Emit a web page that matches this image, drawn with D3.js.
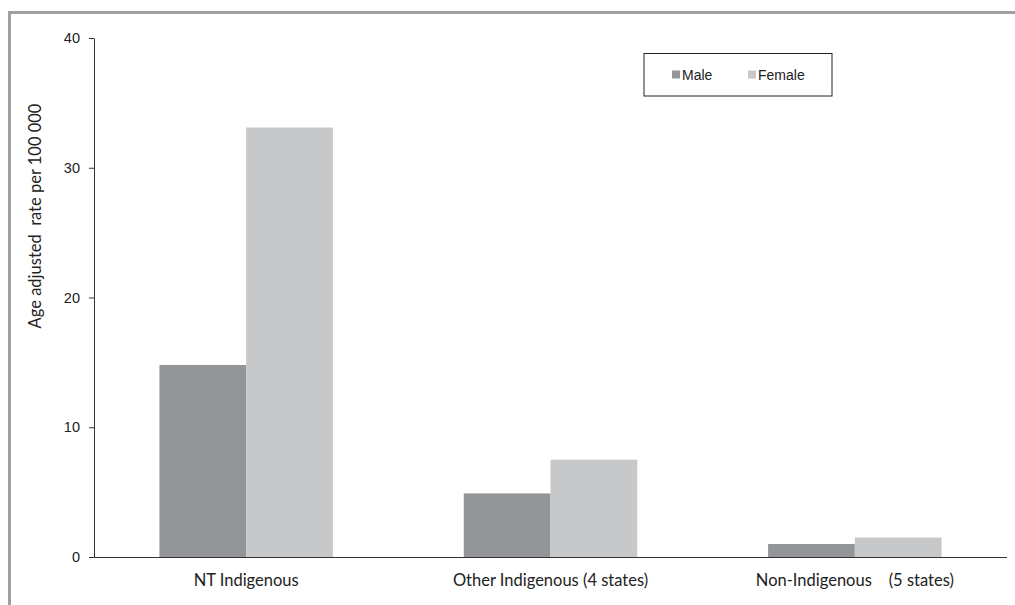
<!DOCTYPE html>
<html>
<head>
<meta charset="utf-8">
<script src="https://cdn.jsdelivr.net/npm/d3@7"></script>
<style>
  body { margin: 0; background: #fff; }
</style>
</head>
<body>
<div id="chart"></div>
<script>
// Data
var categories = ["NT Indigenous", "Other Indigenous (4 states)", "Non-Indigenous    (5 states)"];
var seriesNames = ["Male", "Female"];
var maleValues = [14.8, 4.9, 1.0];
var femaleValues = [33.1, 7.5, 1.5];
var yTicks = [0, 10, 20, 30, 40];
var colors = ["#939598", "#c7c8ca"];

var data = categories.map(function (c, i) {
  return { cat: c, values: [maleValues[i], femaleValues[i]] };
});

var W = 1015, H = 605;
var margin = { top: 38, right: 8, bottom: 48, left: 94 },
  width = W - margin.left - margin.right,
  height = H - margin.top - margin.bottom;

var root = d3.select("#chart")
  .append("svg")
  .attr("width", W)
  .attr("height", H);

// Outer frame (top and left edges only visible)
root.append("path")
  .attr("d", "M9.5," + H + "V12.5H" + W)
  .attr("fill", "none")
  .attr("stroke", "#a0a0a0")
  .attr("stroke-width", 3);

var svg = root.append("g")
  .attr("transform", "translate(" + margin.left + "," + margin.top + ")");

// X scale
var x = d3.scaleBand()
  .domain(categories)
  .range([0, width])
  .paddingInner(0.43)
  .paddingOuter(0.215);

var xSub = d3.scaleBand()
  .domain(seriesNames)
  .range([0, x.bandwidth()]);

// Y scale
var y = d3.scaleLinear()
  .domain([0, 40])
  .range([height, 0]);

// Bars
var groups = svg.selectAll(".grp")
  .data(data)
  .enter()
  .append("g")
  .attr("transform", function (d) { return "translate(" + x(d.cat) + ",0)"; });

groups.selectAll("rect")
  .data(function (d) { return d.values.map(function (v, i) { return { s: seriesNames[i], v: v, i: i }; }); })
  .enter()
  .append("rect")
  .attr("x", function (d) { return xSub(d.s); })
  .attr("width", xSub.bandwidth())
  .attr("y", function (d) { return y(d.v); })
  .attr("height", function (d) { return height - y(d.v); })
  .attr("fill", function (d) { return colors[d.i]; });

// Y axis
var yAxis = svg.append("g")
  .call(d3.axisLeft(y).tickValues(yTicks).tickSize(5).tickPadding(9));
yAxis.select(".domain").attr("stroke", "#333").attr("d", "M0.5," + (height + 0.5) + "V0.5");
yAxis.selectAll(".tick line").attr("stroke", "#333");
yAxis.selectAll("text")
  .style("font-family", "'Liberation Sans', Arial, sans-serif")
  .style("font-size", "14.5px")
  .attr("fill", "#222");

// X axis line
svg.append("line")
  .attr("x1", 0).attr("x2", width)
  .attr("y1", height + 0.5).attr("y2", height + 0.5)
  .attr("stroke", "#333")
  .attr("stroke-width", 1.2);

// Category labels
svg.selectAll(".cat")
  .data(categories)
  .enter()
  .append("text")
  .attr("x", function (d) { return x(d) + x.bandwidth() / 2; })
  .attr("y", height + 29)
  .attr("text-anchor", "middle")
  .style("font-family", "Lato, 'Open Sans', sans-serif")
  .style("font-size", "16.5px")
  .style("white-space", "pre")
  .attr("fill", "#222")
  .text(function (d) { return d; });

// Y title
root.append("text")
  .attr("transform", "translate(41,216) rotate(-90)")
  .attr("text-anchor", "middle")
  .style("font-family", "Lato, 'Open Sans', sans-serif")
  .style("font-size", "16.5px")
  .style("white-space", "pre")
  .attr("fill", "#222")
  .text("Age adjusted  rate per 100 000");

// Legend
var legend = root.append("g").attr("transform", "translate(644,53.5)");
legend.append("rect")
  .attr("width", 188).attr("height", 42.5)
  .attr("fill", "#fff")
  .attr("stroke", "#222")
  .attr("stroke-width", 1);

var legendPos = [28, 104];
seriesNames.forEach(function (s, i) {
  legend.append("rect")
    .attr("x", legendPos[i]).attr("y", 17)
    .attr("width", 8).attr("height", 8)
    .attr("fill", colors[i]);
  legend.append("text")
    .attr("x", legendPos[i] + 10).attr("y", 26)
    .style("font-family", "'Liberation Sans', Arial, sans-serif")
    .style("font-size", "14px")
    .attr("fill", "#222")
    .text(s);
});
</script>
</body>
</html>
